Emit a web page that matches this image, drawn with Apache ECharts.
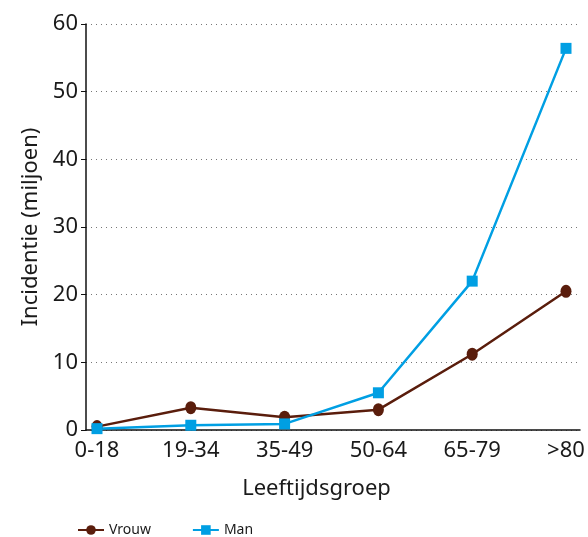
<!DOCTYPE html>
<html>
<head>
<meta charset="utf-8">
<script src="https://cdn.jsdelivr.net/npm/echarts@6/dist/echarts.min.js"></script>
<style>
  html, body { margin: 0; padding: 0; background: #fff; }
  #chart { width: 588px; height: 537px; }
</style>
</head>
<body>
<div id="chart"></div>
<script>
// Age groups on the x axis
const categories = ['0-18', '19-34', '35-49', '50-64', '65-79', '>80'];
// Incidence (millions) per age group
const vrouw = [0.5, 3.3, 1.9, 3.0, 11.2, 20.5];
const man = [0.2, 0.7, 0.9, 5.5, 22.0, 56.4];
// Value-axis ticks
const yTicks = [0, 10, 20, 30, 40, 50, 60];

const FONT = 'Noto Sans';
const BROWN = '#5a1d0c';
const BLUE = '#009fe3';

const chart = echarts.init(document.getElementById('chart'), null, { renderer: 'canvas' });

chart.setOption({
  animation: false,
  textStyle: { fontFamily: FONT },
  grid: [
    // frame: axis lines, ticks, grid lines
    { left: 86, right: 8, top: 24, bottom: 107 },
    // plot area for the series
    { left: 97, right: 22, top: 24, bottom: 107 }
  ],
  xAxis: [
    {
      gridIndex: 0, type: 'value', min: 0, max: 1,
      axisLine: { show: true, lineStyle: { color: '#111', width: 1.5 } },
      axisTick: { show: false }, axisLabel: { show: false }, splitLine: { show: false }
    },
    {
      gridIndex: 1, type: 'category', data: categories, boundaryGap: false,
      axisLine: { show: false }, axisTick: { show: false },
      axisLabel: { color: '#1a1a1a', fontSize: 22, margin: 10, fontFamily: FONT },
      name: 'Leeftijdsgroep', nameLocation: 'middle', nameGap: 48,
      nameTextStyle: { color: '#1a1a1a', fontSize: 22, fontFamily: FONT, padding: [0, 30, 0, 0] }
    }
  ],
  yAxis: [
    {
      gridIndex: 0, type: 'value', min: yTicks[0], max: yTicks[yTicks.length - 1], interval: 10,
      axisLine: { show: true, lineStyle: { color: '#111', width: 1.5 } },
      axisTick: { show: true, length: 5, lineStyle: { color: '#111' } },
      axisLabel: { color: '#1a1a1a', fontSize: 22, margin: 8, fontFamily: FONT },
      splitLine: { show: true, lineStyle: { color: '#777', type: [1, 4], width: 1 } },
      name: 'Incidentie (miljoen)', nameLocation: 'middle', nameGap: 44,
      nameTextStyle: { color: '#1a1a1a', fontSize: 22, fontFamily: FONT }
    },
    {
      gridIndex: 1, type: 'value', min: yTicks[0], max: yTicks[yTicks.length - 1],
      show: false, splitLine: { show: false }
    }
  ],
  legend: {
    left: 72, top: 518, itemWidth: 26, itemHeight: 12, itemGap: 41,
    textStyle: { color: '#1a1a1a', fontSize: 14, fontFamily: FONT },
    data: ['Vrouw', 'Man']
  },
  series: [
    {
      name: 'Vrouw', type: 'line', xAxisIndex: 1, yAxisIndex: 1, data: vrouw,
      symbol: 'circle', symbolSize: [11, 13],
      lineStyle: { color: BROWN, width: 2.5 }, itemStyle: { color: BROWN }
    },
    {
      name: 'Man', type: 'line', xAxisIndex: 1, yAxisIndex: 1, data: man,
      symbol: 'rect', symbolSize: 11,
      lineStyle: { color: BLUE, width: 2.5 }, itemStyle: { color: BLUE }
    }
  ]
});
</script>
</body>
</html>
